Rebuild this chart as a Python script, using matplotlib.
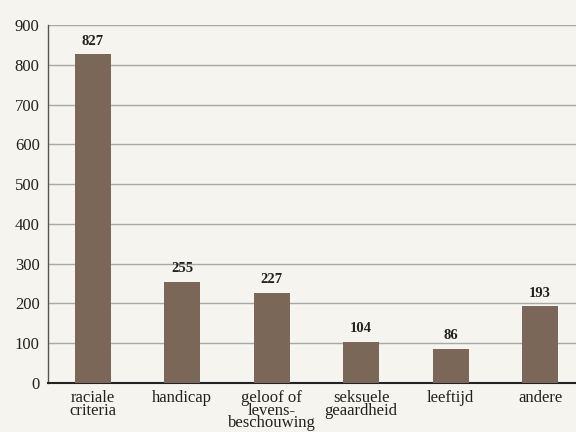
import matplotlib.pyplot as plt

categories = ["raciale\ncriteria", "handicap", "geloof of\nlevens-\nbeschouwing",
              "seksuele\ngeaardheid", "leeftijd", "andere"]
values = [827, 255, 227, 104, 86, 193]
yticks = [0, 100, 200, 300, 400, 500, 600, 700, 800, 900]

bg = "#f5f4ee"
bar_color = "#7a6758"

plt.rcParams["font.family"] = ["Liberation Serif", "DejaVu Serif"]

fig = plt.figure(figsize=(5.76, 4.32), dpi=100, facecolor=bg)
ax = fig.add_axes([0.0833, 0.1134, 0.9167, 0.8286], facecolor=bg)

x = range(len(categories))
ax.bar(x, values, width=0.4, color=bar_color, zorder=3)
for i, v in zip(x, values):
    ax.text(i, v + 16, str(v), ha="center", va="bottom", fontsize=10.5,
            fontweight="bold", color="#222222")

ax.set_xlim(-0.5, 5.4)
ax.set_ylim(0, 900)
ax.set_yticks(yticks)
ax.set_xticks(list(x))
ax.set_xticklabels(categories, fontsize=12, linespacing=0.72, va="top")
ax.tick_params(axis="both", length=0, labelsize=12, colors="#222222")
ax.tick_params(axis="y", pad=6)
ax.tick_params(axis="x", pad=5)
ax.grid(axis="y", color="#a8a8a8", linewidth=1.0, zorder=0)

for s in ["top", "right"]:
    ax.spines[s].set_visible(False)
ax.spines["left"].set_color("#555555")
ax.spines["left"].set_linewidth(1.0)
ax.spines["bottom"].set_color("#222222")
ax.spines["bottom"].set_linewidth(1.5)

fig.savefig("out.png", dpi=100, facecolor=bg)
